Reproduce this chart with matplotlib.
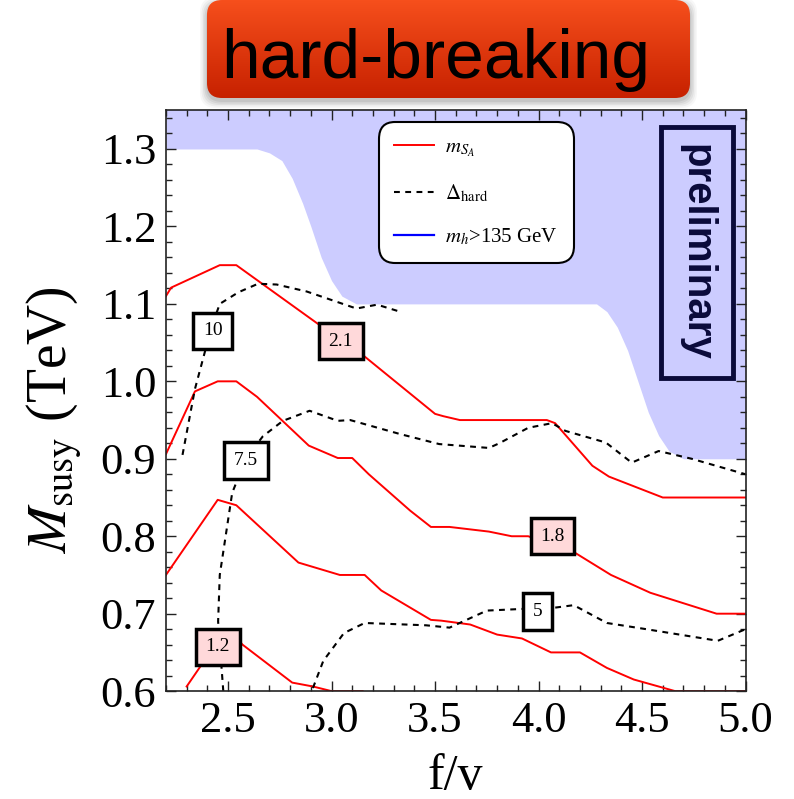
import numpy as np
import matplotlib
matplotlib.use("Agg")
import matplotlib.pyplot as plt
from matplotlib.lines import Line2D
from matplotlib.patches import FancyBboxPatch
from matplotlib.ticker import MultipleLocator, FormatStrFormatter

plt.rcParams["font.family"] = ["Liberation Serif", "DejaVu Serif"]
plt.rcParams["mathtext.fontset"] = "stix"

# excluded region (m_h > 135 GeV): lower edge of the shaded band
bound_f = [2.2, 2.64, 2.70, 2.76, 2.81, 2.86, 2.90, 2.95, 3.00, 3.05, 3.12, 3.20,
           4.28, 4.33, 4.38, 4.43, 4.48, 4.53, 4.58, 4.63, 4.70, 4.78, 5.0]
bound_M = [1.30, 1.30, 1.295, 1.285, 1.262, 1.23, 1.20, 1.16, 1.13, 1.11, 1.10, 1.10,
           1.10, 1.09, 1.07, 1.04, 1.00, 0.96, 0.93, 0.91, 0.90, 0.90, 0.90]

# m_SA contours
mSA_21_f = [2.2, 2.225, 2.46, 2.54, 2.93, 3.16, 3.50, 3.54, 3.62, 4.04, 4.08, 4.26, 4.34, 4.60, 5.0]
mSA_21_M = [1.11, 1.121, 1.15, 1.15, 1.075, 1.032, 0.958, 0.955, 0.95, 0.95, 0.946, 0.891, 0.877, 0.85, 0.85]
mSA_18_f = [2.2, 2.34, 2.45, 2.54, 2.64, 2.89, 3.03, 3.10, 3.18, 3.38, 3.48, 3.57, 3.76, 3.87,
            3.95, 4.18, 4.35, 4.54, 4.86, 5.0]
mSA_18_M = [0.906, 0.987, 1.0, 1.0, 0.98, 0.917, 0.901, 0.901, 0.88, 0.833, 0.812, 0.812, 0.806, 0.80,
            0.80, 0.778, 0.750, 0.727, 0.70, 0.70]
mSA_15_f = [2.2, 2.45, 2.54, 2.84, 3.04, 3.16, 3.24, 3.48, 3.53, 3.67, 3.80, 3.92, 4.06, 4.20,
            4.33, 4.46, 4.66, 5.0]
mSA_15_M = [0.75, 0.847, 0.84, 0.766, 0.75, 0.75, 0.73, 0.692, 0.691, 0.686, 0.673, 0.668, 0.65, 0.65,
            0.63, 0.615, 0.60, 0.60]
mSA_12_f = [2.30, 2.40, 2.47, 2.53, 2.57, 2.81, 2.91, 3.0, 3.15]
mSA_12_M = [0.606, 0.645, 0.672, 0.672, 0.66, 0.611, 0.606, 0.60, 0.60]

# Delta_hard contours
dh_10_f = [2.28, 2.34, 2.38, 2.42, 2.46, 2.55, 2.645, 2.735, 2.88, 3.12, 3.22, 3.33]
dh_10_M = [0.905, 0.99, 1.03, 1.07, 1.10, 1.115, 1.126, 1.125, 1.116, 1.094, 1.099, 1.09]
dh_75_f = [2.477, 2.452, 2.46, 2.52, 2.586, 2.668, 2.765, 2.894, 3.03, 3.09, 3.33, 3.52, 3.76, 3.81,
           3.95, 4.065, 4.13, 4.325, 4.45, 4.58, 4.74, 5.0]
dh_75_M = [0.60, 0.69, 0.75, 0.856, 0.90, 0.929, 0.949, 0.962, 0.949, 0.950, 0.932, 0.919, 0.914, 0.920,
           0.940, 0.946, 0.936, 0.921, 0.895, 0.910, 0.90, 0.88]
dh_5_f = [2.91, 2.96, 3.06, 3.16, 3.457, 3.57, 3.75, 3.91, 3.995, 4.085, 4.17, 4.33, 4.52, 4.866, 5.0]
dh_5_M = [0.604, 0.639, 0.675, 0.688, 0.685, 0.682, 0.704, 0.706, 0.707, 0.708, 0.711, 0.688, 0.68, 0.665, 0.68]

# contour labels: (text, f/v, M_susy)
mSA_labels = [("2.1", 3.044, 1.052), ("1.8", 4.067, 0.800), ("1.2", 2.45, 0.657)]
dh_labels = [("10", 2.427, 1.065), ("7.5", 2.586, 0.898), ("5", 3.994, 0.703)]

x_ticks = [2.5, 3.0, 3.5, 4.0, 4.5, 5.0]
y_ticks = [0.6, 0.7, 0.8, 0.9, 1.0, 1.1, 1.2, 1.3]

RED = "#ff0000"
SHADE = "#ccccff"
NAVY = "#0a0a3a"

fig = plt.figure(figsize=(7.94, 7.99), dpi=100)
ax = fig.add_axes([0.209, 0.135, 0.730, 0.727])

ax.fill_between(bound_f, bound_M, 1.4, color=SHADE, lw=0, zorder=0)

for f, m in [(mSA_21_f, mSA_21_M), (mSA_18_f, mSA_18_M), (mSA_15_f, mSA_15_M), (mSA_12_f, mSA_12_M)]:
    ax.plot(f, m, color=RED, lw=1.4, zorder=2)
for f, m in [(dh_10_f, dh_10_M), (dh_75_f, dh_75_M), (dh_5_f, dh_5_M)]:
    ax.plot(f, m, color="black", lw=1.5, ls=(0, (2.8, 2.6)), zorder=2)

for txt, f, m in mSA_labels:
    ax.text(f, m, txt, ha="center", va="center", fontsize=14, zorder=4,
            bbox=dict(boxstyle="square,pad=0.5", fc="#ffd9da", ec="black", lw=2.5))
for txt, f, m in dh_labels:
    ax.text(f, m, txt, ha="center", va="center", fontsize=14, zorder=4,
            bbox=dict(boxstyle="square,pad=0.5", fc="white", ec="black", lw=2.5))

ax.set_xlim(2.2, 5.0)
ax.set_ylim(0.6, 1.35)
ax.set_xticks(x_ticks)
ax.set_yticks(y_ticks)
ax.xaxis.set_major_formatter(FormatStrFormatter("%.1f"))
ax.yaxis.set_major_formatter(FormatStrFormatter("%.1f"))
ax.xaxis.set_minor_locator(MultipleLocator(0.1))
ax.yaxis.set_minor_locator(MultipleLocator(0.02))
ax.tick_params(which="both", direction="in", top=True, right=True, width=1.0, color="#222222")
ax.tick_params(which="major", length=7, labelsize=32, pad=7)
ax.tick_params(which="minor", length=4)
for s in ax.spines.values():
    s.set_linewidth(1.2)
    s.set_color("#222222")

handles = [Line2D([], [], color=RED, lw=1.4),
           Line2D([], [], color="black", lw=1.5, ls=(0, (2.8, 2.6))),
           Line2D([], [], color="blue", lw=1.6)]
labels = [r"$m_{S_A}$", r"$\Delta_{\rm hard}$", r"$m_h$>135 GeV"]
leg = ax.legend(handles, labels, loc="upper left", bbox_to_anchor=(0.367, 0.979),
                borderaxespad=0, fontsize=15, frameon=True, fancybox=True, framealpha=1,
                edgecolor="black", borderpad=0.75, labelspacing=1.1,
                handlelength=1.9, handletextpad=0.55)
leg.get_frame().set_linewidth(1.5)
leg.get_frame().set_boxstyle("round", pad=0, rounding_size=0.8)
leg.set_zorder(5)

ax.text(0.9155, 0.7556, "preliminary", transform=ax.transAxes, rotation=-90,
        ha="center", va="center", fontsize=29, fontweight="bold", color=NAVY,
        family=["Liberation Sans", "DejaVu Sans"], zorder=5,
        bbox=dict(boxstyle="square,pad=0.42", fc="none", ec=NAVY, lw=3.5))

fig.text(455 / 794, 1 - 789 / 799, "f/v", ha="center", va="baseline", fontsize=36)
fig.text(54 / 794, 1 - 420 / 799, r"$M_{\rm susy}$ (TeV)", ha="center", va="center",
         fontsize=40, rotation=90)

# title banner in pixel coordinates
tax = fig.add_axes([0, 0, 1, 1], zorder=3)
tax.set_xlim(0, 794)
tax.set_ylim(799, 0)
tax.axis("off")

for i, a in enumerate([0.06, 0.06, 0.05, 0.04, 0.03]):
    grow = 1 + i * 1.5
    sh = FancyBboxPatch((207 - grow, 4 - grow), 483 + 2 * grow, 97 + 2 * grow,
                        boxstyle="round,pad=0,rounding_size=16", fc="black", ec="none", alpha=a)
    tax.add_patch(sh)

banner = FancyBboxPatch((207, 0), 483, 98, boxstyle="round,pad=0,rounding_size=15",
                        fc="none", ec="none")
tax.add_patch(banner)
top = np.array([0.965, 0.31, 0.11])
bot = np.array([0.78, 0.13, 0.0])
t = np.linspace(0, 1, 100)[:, None, None]
grad = top * (1 - t) + bot * t
im = tax.imshow(np.repeat(grad, 2, axis=1), extent=(207, 690, 98, 0), aspect="auto",
                interpolation="bilinear", zorder=2)
im.set_clip_path(banner)
tax.text(436, 78, "hard-breaking", ha="center", va="baseline", fontsize=50,
         family=["Liberation Sans", "DejaVu Sans"], color="black", zorder=3)
tax.set_xlim(0, 794)
tax.set_ylim(799, 0)

fig.savefig("out.png", dpi=100)
plt.close(fig)
